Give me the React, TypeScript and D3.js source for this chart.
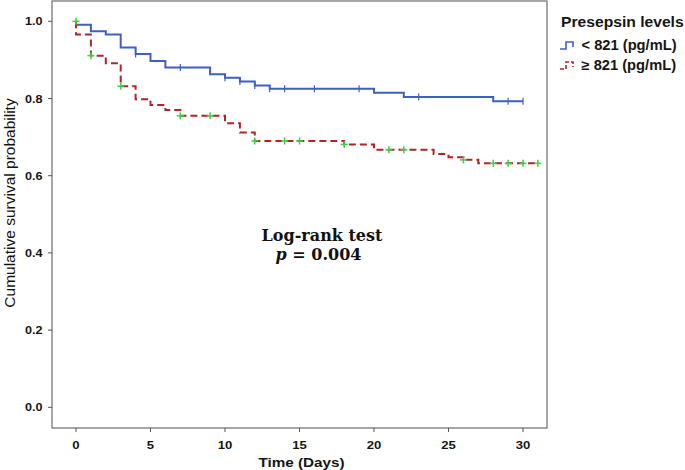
import React from "react";
import * as d3 from "d3";

const xTicks = [0, 5, 10, 15, 20, 25, 30];
const yTicks = [0, 0.2, 0.4, 0.6, 0.8, 1.0];

const lowTimes = [0, 1, 2, 3, 4, 5, 6, 9, 10, 11, 12, 13, 20, 22, 28];
const lowSurv = [0.991, 0.974, 0.966, 0.932, 0.915, 0.897, 0.88, 0.863, 0.854, 0.844, 0.834, 0.825, 0.815, 0.804, 0.793];
const lowCensor = [4, 7, 10, 11, 12, 13, 14, 16, 19, 23, 29, 30];
const lowEnd = 30;

const highTimes = [0, 1, 2, 3, 4, 5, 6, 7, 10, 11, 12, 18, 20, 24, 25, 26, 27];
const highSurv = [0.966, 0.911, 0.891, 0.832, 0.798, 0.783, 0.77, 0.755, 0.736, 0.712, 0.69, 0.681, 0.667, 0.656, 0.648, 0.641, 0.632];
const highCensor = [0, 1, 3, 7, 9, 12, 14, 15, 18, 21, 22, 26, 28, 29, 30, 31];
const highEnd = 31;

const legendTitle = "Presepsin levels";
const legendLabels = ["< 821 (pg/mL)", "≥ 821 (pg/mL)"];

const BLUE = "#3f5fc2";
const RED = "#b3232b";
const GREEN = "#3fcf4a";

function survAt(times: number[], surv: number[], t: number) {
  let s = 1;
  for (let i = 0; i < times.length; i++) if (times[i] <= t) s = surv[i];
  return s;
}

const font = "'Liberation Sans', Arial, sans-serif";
const serif = "'DejaVu Serif', 'Liberation Serif', serif";

function SText(props: {
  x: number;
  y: number;
  sx: number;
  size: number;
  anchor?: string;
  bold?: boolean;
  children: React.ReactNode;
}) {
  return (
    <text
      transform={`translate(${props.x},${props.y}) scale(${props.sx},1)`}
      textAnchor={props.anchor || "start"}
      fontFamily={font}
      fontSize={props.size}
      fontWeight={props.bold ? "bold" : "normal"}
      fill="#151515"
    >
      {props.children}
    </text>
  );
}

export default function App() {
  const L = 52, R = 547, T = 1, B = 428;
  const x = d3.scaleLinear().domain([0, 30]).range([76, 523]);
  const y = d3.scaleLinear().domain([0, 1]).range([407.3, 21.3]);

  const line = d3
    .line<[number, number]>()
    .x((d) => x(d[0]))
    .y((d) => y(d[1]))
    .curve(d3.curveStepAfter);

  const mkPts = (times: number[], surv: number[], end: number): [number, number][] => {
    const pts: [number, number][] = [[0, 1]];
    times.forEach((t, i) => pts.push([t, surv[i]]));
    pts.push([end, surv[surv.length - 1]]);
    return pts;
  };

  const lowPts = mkPts(lowTimes, lowSurv, lowEnd);
  const highPts = mkPts(highTimes, highSurv, highEnd);

  return (
    <svg width={685} height={470} style={{ position: "absolute", left: 0, top: 0, background: "#fff" }}>
      <rect x={L} y={T} width={R - L} height={B - T} fill="none" stroke="#6b6b6b" strokeWidth={1.2} />
      {yTicks.map((v) => (
        <g key={"y" + v}>
          <line x1={L - 4} x2={L} y1={y(v)} y2={y(v)} stroke="#555" />
          <SText x={42.5} y={y(v) + 4} sx={1.2} size={10.5} anchor="end" bold>
            {v.toFixed(1)}
          </SText>
        </g>
      ))}
      {xTicks.map((v) => (
        <g key={"x" + v}>
          <line x1={x(v)} x2={x(v)} y1={B} y2={B + 4} stroke="#555" />
          <SText x={x(v)} y={449} sx={1.25} size={10.5} anchor="middle" bold>
            {v}
          </SText>
        </g>
      ))}
      <SText x={301.5} y={467} sx={1.13} size={13.5} anchor="middle" bold>
        Time (Days)
      </SText>
      <text
        transform={`translate(15,${203}) rotate(-90)`}
        textAnchor="middle"
        fontFamily={font}
        fontSize={15.5}
        fill="#111"
      >
        Cumulative survival probability
      </text>

      <path d={line(lowPts) || ""} fill="none" stroke={BLUE} strokeWidth={2} />
      <path d={line(highPts) || ""} fill="none" stroke={RED} strokeWidth={2} strokeDasharray="7,4" />

      {lowCensor.map((t, i) => {
        const cx = x(t), cy = y(survAt(lowTimes, lowSurv, t));
        return (
          <g key={"lc" + i} stroke={BLUE} strokeWidth={1.2}>
            <line x1={cx} x2={cx} y1={cy - 3.5} y2={cy + 3.5} />
          </g>
        );
      })}
      {highCensor.map((t, i) => {
        const cx = x(t), cy = y(t === 0 ? 1 : survAt(highTimes, highSurv, t));
        return (
          <g key={"hc" + i} stroke={GREEN} strokeWidth={1.5}>
            <line x1={cx} x2={cx} y1={cy - 3.5} y2={cy + 3.5} />
            <line x1={cx - 3.5} x2={cx + 3.5} y1={cy} y2={cy} />
          </g>
        );
      })}

      <text x={322} y={241} textAnchor="middle" fontFamily={serif} fontSize={16} fontWeight="bold" fill="#111">
        Log-rank test
      </text>
      <text x={318.5} y={260} textAnchor="middle" fontFamily={serif} fontSize={16} fontWeight="bold" fill="#111">
        <tspan fontStyle="italic">p</tspan> = 0.004
      </text>

      <SText x={561} y={27} sx={1.08} size={14.5} bold>
        {legendTitle}
      </SText>
      {legendLabels.map((lab, i) => {
        const by = 50 + i * 20;
        const c = i === 0 ? BLUE : RED;
        const d = `M560,${by - 1} H566 V${by - 8} H573 V${by - 3}`;
        return (
          <g key={"lg" + i}>
            <path d={d} fill="none" stroke={c} strokeWidth={1.6} strokeDasharray={i === 1 ? "4,2" : undefined} />
            <SText x={581.5} y={by} sx={1.05} size={14} bold>
              {lab}
            </SText>
          </g>
        );
      })}
    </svg>
  );
}
